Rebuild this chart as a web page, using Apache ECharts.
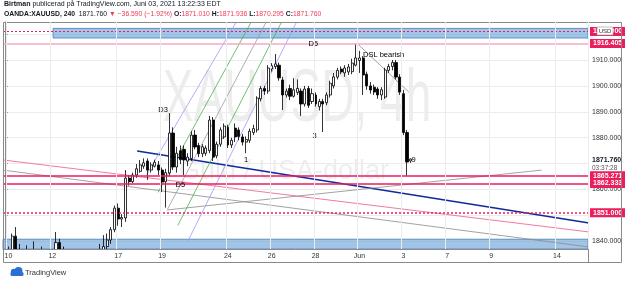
<!DOCTYPE html>
<html>
<head>
<meta charset="utf-8">
<script src="https://cdn.jsdelivr.net/npm/echarts@6/dist/echarts.min.js"></script>
<style>
html, body { margin: 0; padding: 0; background: #fff; }
#chart { width: 625px; height: 283px; }
</style>
</head>
<body>
<div id="chart"></div>
<script>
// 4h bars, 6 per trading day; one bar of 05-07 before the first day
const tradingDays = ['05-10','05-11','05-12','05-13','05-14','05-17','05-18','05-19','05-20','05-21',
  '05-24','05-25','05-26','05-27','05-28','05-31','06-01','06-02','06-03','06-04',
  '06-07','06-08','06-09','06-10','06-11','06-14','06-15'];
const dayLabels = {'05-10':'10','05-12':'12','05-17':'17','05-19':'19','05-24':'24','05-26':'26',
  '05-28':'28','06-01':'Jun','06-03':'3','06-07':'7','06-09':'9','06-14':'14'};

// [open, close, low, high]
const ohlc = [
  [1828,1831,1826,1834],[1831,1836,1828,1838],[1836,1842,1834,1843],[1842,1834,1832,1845.5],
  [1834,1832,1829,1839],[1832,1830,1827,1836],[1830,1833,1828,1838.5],[1833,1831,1827,1836],
  [1831,1834,1829,1840],[1834,1830,1826,1836],[1830,1832,1826,1838],[1832,1828,1824,1834],
  [1828,1830,1825,1833],[1830,1834,1828,1836],[1834,1839.5,1833,1843.6],[1839.5,1836,1834,1841],
  [1836,1827,1822,1838],[1827,1818,1815,1829],[1818,1815,1810,1820],[1815,1819,1808,1822],
  [1819,1824,1817,1827],[1824,1826,1820,1830],[1826,1822,1818,1829],[1822,1828,1820,1831],
  [1828,1830,1825,1833],[1830,1832,1827,1835],[1832,1836,1830,1839],[1836,1838,1834,1842.4],
  [1838,1840.5,1837,1843],[1840.5,1844.5,1839,1845.5],[1844.5,1852.8,1843.5,1853.8],[1852.8,1848.6,1846,1854.6],
  [1848.6,1849.2,1845.5,1850.5],[1849,1864.4,1847.5,1867.5],[1864.4,1863,1861.5,1865.5],[1863,1865.6,1862.5,1866.5],
  [1865.6,1868,1864.5,1869.8],[1867,1869.5,1866.5,1871.4],[1869,1870.3,1868,1872],[1871,1867.5,1863.7,1872],
  [1867.5,1869.5,1866.5,1870.5],[1869,1870.5,1868.5,1871.5],[1869.5,1867.5,1865.6,1871],[1867.5,1862.9,1859,1868.5],
  [1863,1866.5,1853,1868],[1866.4,1881.8,1865,1889.5],[1881.8,1868.7,1867.5,1884],[1868.7,1874,1866.5,1876.5],
  [1875,1871.5,1869.8,1877],[1875.5,1871.4,1865.6,1877],[1871,1872.5,1869,1874],[1872,1881,1871,1882.5],
  [1881,1876.4,1875.5,1883],[1877,1873.8,1872.5,1878],[1873.8,1876.5,1872.5,1877.5],[1874,1876,1873,1877],
  [1875,1886.8,1874,1888.4],[1886.8,1872.5,1871,1888],[1873,1877.5,1872,1878.5],[1877.5,1883,1876.5,1884],
  [1880.3,1884.5,1879.5,1885.5],[1884,1877.2,1876,1885],[1877.2,1879,1876,1880],[1883.7,1880.3,1878.3,1885.5],
  [1883,1880.5,1879,1884],[1880.3,1878.3,1877,1881.5],[1878.3,1879.3,1874,1880.5],[1879,1882.5,1878,1883.5],
  [1882,1883.5,1881,1885],[1883,1895.3,1882,1896],[1895,1899,1894,1900],[1899,1898,1896.5,1900],
  [1898,1906.9,1897,1908],[1906.5,1907.8,1905.5,1908.8],[1907.5,1908.5,1906.5,1912.3],[1908,1903.1,1902,1909],
  [1902.3,1896.5,1890.7,1903.5],[1896.5,1898,1895.5,1899],[1899,1896,1894.5,1900.5],[1896,1898.5,1895.5,1903],
  [1897.5,1899,1896.5,1902.5],[1898,1893,1888.4,1899],[1893,1898.8,1892,1900],[1899,1892.5,1891.5,1900],
  [1894,1897,1893,1899],[1896.5,1893,1892,1897.5],[1892,1894,1890.5,1895],[1894,1893,1882.2,1895],
  [1893.5,1896.5,1892.5,1897.5],[1896.5,1901,1895.5,1902],[1900,1903.5,1899,1905],[1903.4,1906,1902.5,1907],
  [1906.5,1905.4,1904.5,1907.5],[1905,1906.9,1903.5,1908],[1905.4,1907.3,1904.2,1908.5],[1905.5,1908.8,1904.5,1910.5],
  [1908,1910.8,1907.5,1916.4],[1909.8,1910.8,1905,1913.5],[1910.8,1904.2,1896.5,1911.5],[1904.5,1900,1898.5,1905.5],
  [1900,1898.4,1897,1901.5],[1899.5,1897.6,1896.5,1900.5],[1898.8,1896.5,1895,1899.5],[1896.5,1898.5,1894.5,1899.5],
  [1895.7,1906.1,1895,1907],[1906,1907.5,1905,1908.5],[1907.5,1909,1906,1910],[1909,1903.4,1902.5,1910],
  [1903.4,1897.6,1896.5,1904.5],[1897,1882,1881,1898.5],[1882,1870.6,1865.3,1883],[1871.01,1871.76,1870.295,1871.936]
];
const lastPrice = 1871.760;
const countdown = '03:37:28';

// horizontal levels (price) drawn across the pane
const levelPrices = [1921.000, 1916.405, 1865.271, 1862.333, 1851.000];
// rectangles: [fromBar, toBar, lowPrice, highPrice]
const boxes = [[13.2, 159.5, 1918.5, 1922.2], [-0.5, 159.5, 1836.8, 1840.8]];
// trend lines: [bar1, price1, bar2, price2]
const navyLine = [36.2, 1874.9, 159.8, 1847.1];
const pinkLines = [[-0.5, 1871.4, 159.8, 1843.6]];
const greyLines = [[-0.5, 1867.5, 159.8, 1837.8], [44.4, 1852.1, 146.8, 1867.5], [96.5, 1916.2, 110.5, 1897.6]];
// pitchfork: median, inner (green) and outer (violet) tines
const forkMedian = [44.5, 1852.4, 71.5, 1924.7];
const forkGreen = [[41.9, 1858.9, 67.4, 1924.7], [47.3, 1846.1, 75.7, 1924.7]];
const forkViolet = [[38.8, 1865.8, 63.3, 1924.7], [50.0, 1839.9, 79.8, 1924.7]];
// text notes: [text, bar, price]
const notes = [['D3', 43.3, 1890.7], ['D5', 48, 1861.7], ['1', 66, 1871.4], ['3', 84.7, 1880.7],
  ['D5', 84.4, 1916.2], ['DSL bearish', 103.6, 1911.9], ['9', 111.8, 1871.4]];

const categories = ['05-07 5'];
tradingDays.forEach(d => { for (let k = 0; k < 6; k++) categories.push(d + ' ' + k); });
categories.length = 160;
const candleData = categories.map((c, i) => ohlc[i] || '-');

const isDayTick = (i, v) => { const p = v.split(' '); return p[1] === '0' && dayLabels[p[0]] !== undefined; };

const RED = '#ec1d5c';
const GREY = '#8a8a8a';
const levelStyles = [
  { color: RED, type: [2, 2], width: 1 },
  { color: '#f7a8c4', type: 'solid', width: 1.5 },
  { color: RED, type: 'solid', width: 1.5 },
  { color: RED, type: 'solid', width: 1.5 },
  { color: RED, type: [2, 2], width: 1.5 }
];

function seg(l, color, width) {
  return {
    type: 'line', xAxisIndex: 1, silent: true, symbol: 'none', z: 3,
    data: [[l[0], l[1]], [l[2], l[3]]],
    lineStyle: { color: color, width: width }
  };
}

const chart = echarts.init(document.getElementById('chart'));
const FONT = 'Liberation Sans';

const series = [
  {
    type: 'candlestick',
    data: candleData,
    barWidth: '72%',
    clip: true,
    z: 4,
    itemStyle: { color: '#ffffff', color0: '#000000', borderColor: '#000000', borderColor0: '#000000', borderWidth: 0.8 },
    markLine: {
      silent: true, symbol: 'none',
      lineStyle: { color: 'rgba(0,0,0,0)', width: 0 },
      label: {
        show: true, position: 'end', distance: 1, offset: [0, 5],
        backgroundColor: '#fff', padding: [1, 3, 1, 3],
        formatter: '{a|' + lastPrice.toFixed(3) + '}\n{b|' + countdown + '}',
        rich: {
          a: { fontSize: 7, fontWeight: 'bold', color: '#131722', fontFamily: FONT, lineHeight: 8 },
          b: { fontSize: 6.5, color: '#555', fontFamily: FONT, lineHeight: 8 }
        }
      },
      data: [{ yAxis: lastPrice }]
    }
  },
  {
    type: 'line', xAxisIndex: 1, data: [], silent: true, z: 5,
    markArea: {
      silent: true,
      itemStyle: { color: 'rgba(110,165,218,0.65)', borderColor: '#5d8fc4', borderWidth: 1 },
      data: boxes.map(b => [{ xAxis: b[0], yAxis: b[3] }, { xAxis: b[1], yAxis: b[2] }])
    },
    markLine: {
      silent: true, symbol: 'none',
      data: levelPrices.map((p, i) => ({
        yAxis: p,
        lineStyle: levelStyles[i],
        label: {
          position: 'end', distance: 2, formatter: p.toFixed(3),
          backgroundColor: RED, color: '#fff', fontSize: 7, fontWeight: 'bold',
          fontFamily: FONT, padding: [1, 3, 1, 3]
        }
      }))
    }
  },
  seg(navyLine, '#0f2a9b', 1.5),
  seg(forkMedian, '#9a9a9a', 0.8)
];
pinkLines.forEach(l => series.push(seg(l, '#f07aa0', 1)));
greyLines.forEach(l => series.push(seg(l, GREY, 0.8)));
forkGreen.forEach(l => series.push(seg(l, '#4cb04c', 0.8)));
forkViolet.forEach(l => series.push(seg(l, '#9a9af5', 0.8)));

const graphics = [
  { type: 'text', x: 297, y: 101, scaleX: 1, scaleY: 1.6, silent: true, z: -10,
    style: { text: 'XAUUSD, 4h', fill: 'rgba(0,0,0,0.07)', font: '46px "Liberation Sans"', textAlign: 'center', textVerticalAlign: 'middle' } },
  { type: 'text', x: 284, y: 172, silent: true, z: -10,
    style: { text: 'Guld / USA-dollar', fill: 'rgba(0,0,0,0.07)', font: '27px "Liberation Sans"', textAlign: 'center', textVerticalAlign: 'middle' } },
  // white strip below the pane hides the parts of bars under the axis minimum
  { type: 'rect', shape: { x: 0, y: 249.5, width: 588, height: 34 }, silent: true, z: 40,
    style: { fill: '#fff' } },
  { type: 'rect', shape: { x: 3.5, y: 22.5, width: 618, height: 240 }, silent: true, z: 41,
    style: { fill: 'none', stroke: GREY, lineWidth: 1 } },
  { type: 'line', shape: { x1: 588.5, y1: 249, x2: 588.5, y2: 263 }, silent: true, z: 41, style: { stroke: GREY, lineWidth: 1 } },
  { type: 'text', x: 4, y: 1, silent: true,
    style: { text: '{b|Birtman} publicerad på TradingView.com, Juni 03, 2021 13:22:33 EDT',
      font: '7px "Liberation Sans"', fill: '#131722',
      rich: { b: { fontWeight: 'bold', fontSize: 7, fontFamily: FONT, fill: '#131722' } } } },
  { type: 'text', x: 4, y: 11, silent: true,
    style: { text: '{b|OANDA:XAUUSD, 240}  1871.760 {r|▼ −36.590 (−1.92%)} {b|O:}{r|1871.010} {b|H:}{r|1871.936} {b|L:}{r|1870.295} {b|C:}{r|1871.760}',
      font: '6.8px "Liberation Sans"', fill: '#131722',
      rich: { b: { fontWeight: 'bold', fontSize: 6.8, fontFamily: FONT, fill: '#131722' },
              r: { fontSize: 6.8, fontFamily: FONT, fill: '#ef3b57' } } } },
  { type: 'rect', shape: { x: 597, y: 27, width: 16, height: 8 }, silent: true, z: 100,
    style: { fill: '#fff', stroke: '#999', lineWidth: 0.6 } },
  { type: 'text', x: 605, y: 31, silent: true, z: 101,
    style: { text: 'USD', font: '6px "Liberation Sans"', fill: '#333', textAlign: 'center', textVerticalAlign: 'middle' } },
  { type: 'circle', shape: { cx: 14, cy: 272, r: 3.2 }, silent: true, z: 42, style: { fill: '#2a6fd6' } },
  { type: 'circle', shape: { cx: 18.5, cy: 271, r: 4 }, silent: true, z: 42, style: { fill: '#2a6fd6' } },
  { type: 'rect', shape: { x: 10.5, y: 272, width: 13, height: 4, r: 1.5 }, silent: true, z: 42, style: { fill: '#2a6fd6' } },
  { type: 'text', x: 25, y: 273, silent: true, z: 42,
    style: { text: 'TradingView', font: '7.5px "Liberation Sans"', fill: '#333', textVerticalAlign: 'middle' } }
];

chart.setOption({
  animation: false,
  backgroundColor: '#ffffff',
  grid: { left: 3, right: 37, top: 22, bottom: 34 },
  xAxis: [
    {
      type: 'category', data: categories, boundaryGap: true, z: 60,
      axisLine: { lineStyle: { color: GREY } },
      axisTick: { show: false },
      axisLabel: { interval: isDayTick, formatter: v => dayLabels[v.split(' ')[0]], fontSize: 7, color: '#333', fontFamily: FONT, margin: 4 },
      splitLine: { show: true, interval: isDayTick, lineStyle: { color: '#ececec', width: 1 } }
    },
    { type: 'value', min: -0.5, max: 159.5, show: false }
  ],
  yAxis: {
    type: 'value', position: 'right', scale: true,
    min: 1837.03, max: 1924.67, splitNumber: 9, minInterval: 10, maxInterval: 10,
    axisLine: { show: true, lineStyle: { color: GREY } },
    axisTick: { show: true, length: 3, lineStyle: { color: GREY } },
    axisLabel: { showMinLabel: false, showMaxLabel: false, formatter: v => v.toFixed(3), fontSize: 7, color: '#333', fontFamily: FONT, margin: 4 },
    splitLine: { show: true, lineStyle: { color: '#ececec' } }
  },
  graphic: graphics,
  series: series
});

// chart notes placed at their bar/price through the axes
notes.forEach(n => {
  const pt = chart.convertToPixel({ xAxisIndex: 1, yAxisIndex: 0 }, [n[1], n[2]]);
  graphics.push({
    type: 'text', x: pt[0], y: pt[1], silent: true, z: 50,
    style: { text: n[0], font: '7.5px "Liberation Sans"', fill: '#000', textAlign: 'center', textVerticalAlign: 'middle' }
  });
});
chart.setOption({ graphic: graphics });
</script>
</body>
</html>
